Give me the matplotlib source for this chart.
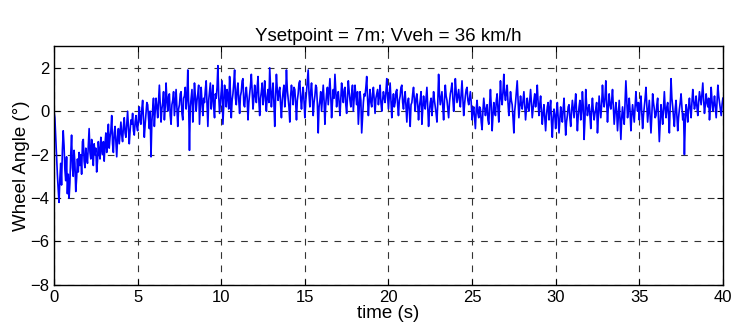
import numpy as np
import matplotlib
matplotlib.use("Agg")
import matplotlib.pyplot as plt

plt.rcParams['font.family'] = ['Liberation Sans', 'DejaVu Sans']

dt = 0.05
angle = [
    0.0, -0.3, -1.2, -2.0, -2.9, -3.6, -4.2, -3.1, -2.4, -3.4, -1.8, -0.9, -1.6, -2.7, -3.2, -2.1, -3.8, -2.9, -4.0, -3.3,
    -2.0, -1.1, -2.6, -3.0, -1.8, -2.4, -3.7, -3.1, -2.2, -2.8, -1.9, -2.5, -2.0, -2.9, -1.4, -1.3, -2.3, -2.6, -1.7, -2.1,
    -2.4, -1.6, -0.8, -1.9, -2.2, -1.3, -1.8, -2.5, -1.5, -2.0, -1.7, -2.8, -2.3, -1.4, -1.9, -2.2, -1.2, -1.7, -2.0, -1.4,
    -2.3, -1.5, -1.0, -1.9, -1.4, -0.6, -1.7, -1.2, -0.9, -0.2, -1.5, -1.9, -1.0, -0.7, -1.4, -2.1, -1.2, -0.8, -1.5, -1.0,
    -0.5, -1.1, -1.4, -0.7, -0.3, -1.0, -1.2, -0.6, 0.0, -0.8, -1.5, -0.9, -0.4, -0.6, -0.1, -0.9, -1.1, -0.5, -0.2, -0.7,
    -0.9, -0.3, 0.2, -0.5, -0.6, 0.1, 0.5, -0.4, -1.2, -0.6, -0.1, 0.4, 0.3, -0.3, -0.8, 0.0, -2.1, -0.5, 0.1, 0.6,
    -0.7, 0.0, 0.6, 0.2, -0.3, 0.5, 1.2, 0.3, -0.5, 0.1, 0.4, 0.9, -0.4, 0.2, 1.3, 0.5, 0.0, 0.7, 0.8, -0.2,
    -0.6, 0.3, 0.5, 0.9, -0.2, 0.4, 1.0, 0.2, -0.7, 0.1, 0.3, 0.8, 0.9, -0.1, -0.4, 0.6, 0.7, 1.1, 0.1, 0.5,
    1.9, 0.4, -1.8, 0.2, 0.6, 1.0, -0.5, 0.3, 1.3, 0.7, 0.0, 0.5, 0.8, 1.2, -0.6, 0.2, 1.1, 0.4, -0.2, 0.6,
    0.4, 1.0, 1.4, 0.3, -0.7, 0.5, 0.9, 1.3, 0.1, 0.6, 1.2, 0.2, -0.3, 0.8, 0.6, 1.1, 2.1, 0.7, -0.1, 0.4,
    0.9, 1.4, -0.6, 0.3, 1.2, 0.8, 0.2, 1.0, 0.7, 0.1, 1.6, 0.9, -0.3, 0.5, 0.8, 1.3, 1.9, 0.6, 0.3, 1.0,
    1.3, 0.5, -0.1, 0.7, 0.9, 1.4, 1.5, 0.3, 0.2, 0.8, 1.1, 0.6, -0.4, 0.4, 0.8, 1.2, 1.7, 0.9, 0.1, 0.6,
    1.2, 0.7, 0.4, 1.1, 1.6, 0.5, -0.2, 0.6, 0.9, 1.3, 0.3, 0.8, 1.4, 0.5, 0.0, 0.7, 1.0, 0.4, 2.0, 1.1,
    0.2, 0.8, 1.3, 0.4, -0.7, 0.6, 1.7, 1.0, 0.5, 0.9, 1.1, 0.3, -0.3, 0.5, 0.9, 1.2, 0.2, 0.7, 1.9, 1.0,
    0.6, 0.2, -0.5, 0.7, 1.2, 0.8, 0.3, 1.1, 1.0, 0.4, -0.4, 0.5, 0.8, 1.3, 1.4, 0.6, 0.1, 0.7, 1.1, 0.5,
    -0.3, 0.4, 0.9, 1.4, 1.9, 0.8, 0.2, 0.9, 1.3, 0.6, -0.2, 0.4, 0.7, 1.2, 1.1, 0.3, -1.0, 0.2, 0.5, 0.9,
    0.0, 0.6, 1.2, 0.5, -0.6, 0.3, 0.8, 1.1, 0.3, 0.9, 1.5, 0.7, -0.3, 0.4, 1.0, 0.6, 1.7, 0.9, 0.2, 0.7,
    0.9, 0.4, -0.2, 0.6, 1.3, 0.8, 0.4, 1.0, 1.1, 0.3, -0.1, 0.7, 1.4, 0.9, 0.5, 0.2, 0.8, 1.2, 0.0, 0.6,
    1.2, 0.7, 0.3, 0.9, -0.6, 0.2, 0.9, 0.5, -1.0, -0.3, 0.4, 0.8, 0.7, 1.1, 1.6, 0.6, -0.2, 0.5, 1.0, 0.4,
    0.2, 0.8, 1.1, 0.5, -0.1, 0.6, 0.8, 1.0, 0.3, 0.7, 1.2, 0.4, 0.0, 0.5, 0.9, 0.6, 0.4, 0.9, 1.5, 0.7,
    0.1, 0.7, 1.3, 0.5, -0.3, 0.4, 0.8, 0.2, 0.4, 0.9, 1.0, 0.3, -0.2, 0.5, 0.7, 1.1, 1.2, 0.4, 0.1, 0.6,
    0.9, 0.2, -0.5, 0.4, 0.6, 0.0, -0.7, 0.3, 0.4, 0.8, 1.1, 0.5, 0.0, 0.6, 0.8, 0.3, -0.4, 0.2, 0.5, 0.9,
    -0.6, 0.1, 0.7, 0.3, 0.1, 0.6, 1.1, 0.2, -0.7, 0.0, 0.4, 0.6, -0.2, 0.3, 0.9, 0.5, 0.2, -0.1, -0.5, 0.4,
    1.7, 0.8, 0.3, 0.6, 0.9, 0.2, -0.4, 0.5, 1.2, 0.7, 0.5, 0.1, -0.3, 0.4, 0.8, 1.0, 1.3, 0.6, 0.0, 0.5,
    1.5, 0.9, 0.4, 0.7, 1.0, 0.5, 0.2, 0.8, 1.4, 0.6, -0.2, 0.3, 0.7, 1.0, 1.1, 0.5, 0.3, 0.6, 0.9, 0.4,
    -0.4, 0.0, 0.2, -0.3, -0.8, 0.1, 0.5, -0.1, -0.3, 0.2, 0.1, -0.5, -0.85, 0.0, 0.6, 0.2, -0.2, 0.1, 0.3, -0.4,
    -0.6, 0.3, 1.0, 0.2, -0.9, -0.2, 0.4, 0.0, -0.2, 0.5, 0.8, 0.1, -0.5, 0.4, 1.4, 0.6, 0.3, 0.9, 1.7, 0.8,
    0.5, 0.9, 1.2, 0.4, -0.2, 0.3, 0.9, 0.5, 0.3, -0.3, -1.0, 0.0, 0.4, 0.9, 1.4, 0.6, -0.3, 0.2, 0.7, 0.3,
    0.1, 0.5, 0.9, 0.3, -0.4, 0.1, 0.6, 0.2, 0.0, 0.5, 1.0, 0.4, -0.3, 0.1, 0.5, 0.8, 0.2, 0.6, 1.2, 0.4,
    -0.2, 0.3, 0.7, 0.0, -0.6, -0.1, 0.3, -0.3, -0.9, -0.2, 0.2, 0.4, -0.4, 0.1, 0.5, -0.5, -1.2, -0.3, 0.1, -0.2,
    -0.8, -0.1, 0.4, -0.3, -1.0, -0.4, 0.2, -0.2, -0.5, 0.1, 0.6, -0.2, -1.1, -0.5, -0.2, 0.2, 0.3, -0.3, -0.7, 0.0,
    0.5, 0.1, -0.3, 0.3, 0.8, -0.1, -0.9, -0.2, 0.2, 0.5, -0.4, 0.0, 0.9, 0.2, -1.3, -0.4, 1.0, 0.3, -0.2, 0.1,
    0.3, -0.2, -0.8, 0.1, 0.6, 0.0, -0.4, -0.1, 0.1, 0.4, -1.0, -0.3, 0.7, 0.2, -0.3, 0.3, 1.2, 0.5, 0.2, 0.6,
    1.4, 0.4, -0.5, 0.2, 0.8, 0.3, 0.1, 0.5, 1.0, 0.2, -0.6, -0.1, 0.4, 0.0, -0.9, -0.2, 0.5, -0.4, -1.3, -0.3,
    0.2, -0.3, -0.6, 0.4, 1.4, 0.5, -0.3, 0.1, 0.6, 0.0, -0.9, -0.2, 0.3, -0.1, -0.5, 0.2, 0.9, 0.3, 0.0, 0.4,
    -0.4, 0.2, 0.7, -0.1, -0.8, -0.2, 0.2, 0.6, 1.1, 0.3, -0.5, 0.0, 0.5, -0.3, -1.0, -0.2, 0.8, 0.4, 0.1, -0.3,
    -0.2, 0.3, 0.6, -0.4, -1.4, -0.5, 0.3, -0.1, -0.6, 0.2, 0.9, 0.1, -0.3, 0.2, 0.4, -0.2, -1.0, 0.3, 1.5, 0.6,
    0.2, -0.3, -0.7, 0.1, 0.5, -0.2, -0.9, -0.3, 0.1, 0.4, 0.8, 0.2, -0.4, -0.1, -2.0, -0.5, 0.3, 0.0, -0.5, 0.2,
    0.6, 0.1, -0.3, 0.4, 1.0, 0.5, 0.1, 0.3, 0.7, 0.2, -0.2, 0.4, 0.9, 0.6, 0.3, 0.8, 1.3, 0.5, -0.1, 0.3,
    0.8, 0.4, 0.2, 0.6, -0.4, 0.2, 1.1, 0.5, 0.0, 0.3, 0.7, 0.2, -0.3, 0.4, 1.2, 0.7, 0.4, 0.1, -0.2, 0.3,
    0.6,
]
time = np.arange(len(angle)) * dt

xticks = [0, 5, 10, 15, 20, 25, 30, 35, 40]
yticks = [-8, -6, -4, -2, 0, 2]

fig = plt.figure(figsize=(7.35, 3.34), dpi=100)
ax = fig.add_axes([0.0735, 0.147, 0.910, 0.715])
ax.plot(time, angle, color='#0000ff', linewidth=1.2)

ax.set_xlim(0, 40)
ax.set_ylim(-8, 3)
ax.set_xticks(xticks)
ax.set_yticks(yticks)
ax.grid(True, color='#333333', linestyle=(0, (6, 6)), linewidth=0.8)
ax.tick_params(direction='in', top=True, right=True, length=4, labelsize=12)
for s in ax.spines.values():
    s.set_linewidth(1.0)

ax.set_title("Ysetpoint = 7m; Vveh = 36 km/h", fontsize=13.5, pad=4)
ax.set_xlabel("time (s)", fontsize=13.5, labelpad=0)
ax.set_ylabel("Wheel Angle (\u00b0)", fontsize=13.5, labelpad=0)

fig.savefig("out.png", dpi=100)
